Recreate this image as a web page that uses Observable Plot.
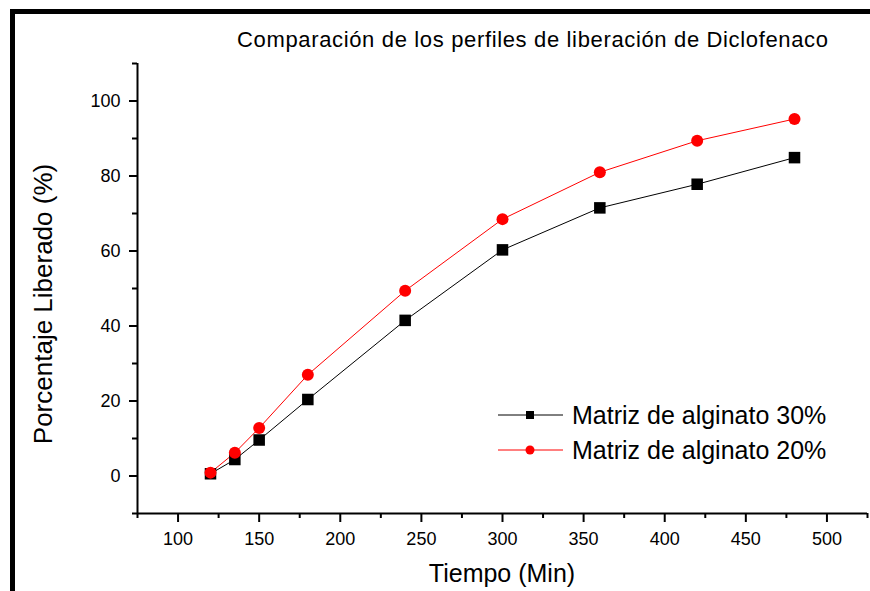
<!DOCTYPE html>
<html>
<head>
<meta charset="utf-8">
<script src="https://cdn.jsdelivr.net/npm/d3@7"></script>
<script src="https://cdn.jsdelivr.net/npm/@observablehq/plot@0.6"></script>
<style>
  html, body { margin: 0; padding: 0; background: #fff; }
  #chart { position: relative; width: 870px; height: 591px; overflow: hidden; }
  svg text { font-family: "Liberation Sans", Arial, Helvetica, sans-serif; }
</style>
</head>
<body>
<div id="chart"></div>
<script>
// Release time (min) and percentage of diclofenac released
const tiempo = [120, 135, 150, 180, 240, 300, 360, 420, 480];
const alginato30 = [0.6, 4.4, 9.6, 20.4, 41.5, 60.3, 71.5, 77.8, 84.9];
const alginato20 = [0.9, 6.2, 12.8, 27.0, 49.4, 68.5, 81.0, 89.4, 95.2];

const seriesNames = ["Matriz de alginato 30%", "Matriz de alginato 20%"];
const xMajor = [100, 150, 200, 250, 300, 350, 400, 450, 500];
const xMinor = [75, 125, 175, 225, 275, 325, 375, 425, 475, 525];
const yMajor = [0, 20, 40, 60, 80, 100];
const yMinor = [-10, 10, 30, 50, 70, 90, 110];

const title = "Comparación de los perfiles de liberación de Diclofenaco";
const xLabel = "Tiempo (Min)";
const yLabel = "Porcentaje Liberado (%)";

const rows30 = tiempo.map((t, i) => ({t, v: alginato30[i]}));
const rows20 = tiempo.map((t, i) => ({t, v: alginato20[i]}));

const font = '"Liberation Sans", Arial, Helvetica, sans-serif';

const plot = Plot.plot({
  width: 870,
  height: 591,
  marginLeft: 137,
  marginRight: 3,
  marginTop: 63,
  marginBottom: 78,
  style: {fontFamily: font, background: "transparent", overflow: "visible"},
  x: {domain: [75, 525]},
  y: {domain: [-10, 110]},
  marks: [
    // minor ticks
    Plot.axisX({ticks: xMinor, tickSize: 5, strokeWidth: 2, stroke: "#000", label: null, text: null}),
    Plot.axisY({ticks: yMinor, tickSize: 5, strokeWidth: 2, stroke: "#000", label: null, text: null}),
    // major ticks with labels
    Plot.axisX({ticks: xMajor, tickSize: 9, tickPadding: 10, strokeWidth: 2, stroke: "#000",
      fill: "#000", fontSize: 18, label: null, tickFormat: d => String(d)}),
    Plot.axisY({ticks: yMajor, tickSize: 8, tickPadding: 9, strokeWidth: 2, stroke: "#000",
      fill: "#000", fontSize: 18, label: null, tickFormat: d => String(d)}),
    // axis lines
    Plot.ruleX([75], {stroke: "#000", strokeWidth: 2}),
    Plot.ruleY([-10], {stroke: "#000", strokeWidth: 2}),
    // series
    Plot.line(rows30, {x: "t", y: "v", stroke: "#000", strokeWidth: 1}),
    Plot.line(rows20, {x: "t", y: "v", stroke: "#ff0000", strokeWidth: 1}),
    Plot.dot(rows30, {x: "t", y: "v", symbol: "square", r: 6.5, fill: "#000", stroke: null}),
    Plot.dot(rows20, {x: "t", y: "v", symbol: "circle", r: 6, fill: "#ff0000", stroke: null})
  ]
});

document.getElementById("chart").appendChild(plot);

const svg = d3.select(plot);

// outer frame (left and top bars)
svg.append("rect").attr("x", 10).attr("y", 9).attr("width", 5).attr("height", 591).attr("fill", "#000");
svg.append("rect").attr("x", 10).attr("y", 9).attr("width", 870).attr("height", 5).attr("fill", "#000");

// title
svg.append("text")
  .attr("x", 237).attr("y", 47)
  .attr("text-anchor", "start")
  .attr("font-size", 22).attr("fill", "#000")
  .attr("textLength", 591).attr("lengthAdjust", "spacing")
  .text(title);

// axis titles
svg.append("text")
  .attr("x", 502).attr("y", 582)
  .attr("text-anchor", "middle")
  .attr("font-size", 25).attr("fill", "#000")
  .text(xLabel);

svg.append("text")
  .attr("transform", "translate(52,304) rotate(-90)")
  .attr("text-anchor", "middle")
  .attr("font-size", 26).attr("fill", "#000")
  .text(yLabel);

// legend
const legend = [
  {name: seriesNames[0], color: "#000", symbol: "square", y: 415},
  {name: seriesNames[1], color: "#ff0000", symbol: "circle", y: 450}
];
legend.forEach(d => {
  svg.append("line")
    .attr("x1", 498).attr("x2", 563).attr("y1", d.y).attr("y2", d.y)
    .attr("stroke", d.color).attr("stroke-width", 1);
  if (d.symbol === "square") {
    svg.append("rect").attr("x", 526).attr("y", d.y - 4).attr("width", 8).attr("height", 8).attr("fill", d.color);
  } else {
    svg.append("circle").attr("cx", 530).attr("cy", d.y).attr("r", 4.5).attr("fill", d.color);
  }
  svg.append("text")
    .attr("x", 572).attr("y", d.y + 9)
    .attr("text-anchor", "start")
    .attr("font-size", 25).attr("fill", "#000")
    .text(d.name);
});
</script>
</body>
</html>
